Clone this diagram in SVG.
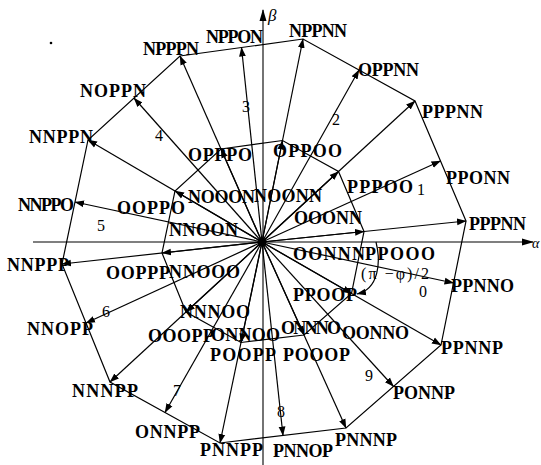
<svg xmlns="http://www.w3.org/2000/svg" width="541" height="465" viewBox="0 0 541 465">
<defs>
<marker id="ah" markerUnits="userSpaceOnUse" markerWidth="10" markerHeight="8" refX="9" refY="4" orient="auto" viewBox="0 0 10 8"><path d="M0,0.6 L9.5,4 L0,7.4 z" fill="#000"/></marker>
<marker id="axh" markerUnits="userSpaceOnUse" markerWidth="12" markerHeight="8" refX="11" refY="4" orient="auto" viewBox="0 0 12 8"><path d="M0,0.5 L12,4 L0,7.5 z" fill="#000"/></marker>
</defs>
<style>
.lb{font-family:"Liberation Serif","Times New Roman",serif;font-weight:bold;font-size:18px;fill:#000}
.nm{font-family:"Liberation Serif","Times New Roman",serif;font-size:16px;fill:#000}
.gk{font-family:"Liberation Serif","Times New Roman",serif;font-style:italic;font-size:17px;fill:#000}
.ln{stroke:#000;stroke-width:1.2;fill:none}
.ar{stroke:#000;stroke-width:1.2;fill:none;marker-end:url(#ah)}
.ax{stroke:#000;stroke-width:1.1;fill:none;marker-end:url(#axh)}
</style>
<rect width="541" height="465" fill="#fff"/>
<g id="axes">
<line class="ax" x1="33" y1="242" x2="533" y2="242"/>
<line class="ax" x1="263" y1="465" x2="263" y2="10"/>
<text class="gk" x="532" y="248" style="font-size:14px">α</text>
<text class="gk" x="268" y="21">β</text>
</g>
<g id="polygons">
<polygon class="ln" points="466,221 415,101 303,39 180,56 88,140 62,264 110,382 220,443 346,428 441,345"/>
<polygon class="ln" points="364,231.5 338.5,171.5 282.5,140.5 221,149 175,191 162,253 186,312 241,342.5 304,335 351.5,293.5"/>
</g>
<g id="connectors">
<line class="ar" x1="262" y1="242" x2="466" y2="221"/>
<line class="ar" x1="262" y1="242" x2="415" y2="101"/>
<line class="ar" x1="262" y1="242" x2="303" y2="39"/>
<line class="ar" x1="262" y1="242" x2="180" y2="56"/>
<line class="ar" x1="262" y1="242" x2="88" y2="140"/>
<line class="ar" x1="262" y1="242" x2="62" y2="264"/>
<line class="ar" x1="262" y1="242" x2="110" y2="382"/>
<line class="ar" x1="262" y1="242" x2="220" y2="443"/>
<line class="ar" x1="262" y1="242" x2="346" y2="428"/>
<line class="ar" x1="262" y1="242" x2="441" y2="345"/>
<line class="ar" x1="262" y1="242" x2="364" y2="231.5"/>
<line class="ar" x1="262" y1="242" x2="338.5" y2="171.5"/>
<line class="ar" x1="262" y1="242" x2="282.5" y2="140.5"/>
<line class="ar" x1="262" y1="242" x2="221" y2="149"/>
<line class="ar" x1="262" y1="242" x2="175" y2="191"/>
<line class="ar" x1="262" y1="242" x2="162" y2="253"/>
<line class="ar" x1="262" y1="242" x2="186" y2="312"/>
<line class="ar" x1="262" y1="242" x2="241" y2="342.5"/>
<line class="ar" x1="262" y1="242" x2="304" y2="335"/>
<line class="ar" x1="262" y1="242" x2="351.5" y2="293.5"/>
<line class="ar" x1="262" y1="242" x2="440.5" y2="161"/>
<line class="ar" x1="262" y1="242" x2="359" y2="70"/>
<line class="ar" x1="262" y1="242" x2="241.5" y2="47.5"/>
<line class="ar" x1="262" y1="242" x2="134" y2="98"/>
<line class="ar" x1="262" y1="242" x2="75" y2="202"/>
<line class="ar" x1="262" y1="242" x2="86" y2="323"/>
<line class="ar" x1="262" y1="242" x2="165" y2="412.5"/>
<line class="ar" x1="262" y1="242" x2="283" y2="435.5"/>
<line class="ar" x1="262" y1="242" x2="393.5" y2="386.5"/>
<line class="ar" x1="262" y1="242" x2="453.5" y2="283"/>
<path class="ar" d="M376,242 C381,262 379,289 357,294"/>
<circle cx="262" cy="242" r="4.5" fill="#000"/>
<circle cx="51" cy="43" r="1.3" fill="#000"/>
</g>
<g id="outer-labels">
<text id="t-nppon" class="lb" x="206" y="43" textLength="57">NPPON</text>
<text id="t-nppnn" class="lb" x="289" y="37" textLength="58">NPPNN</text>
<text id="t-ndppn" class="lb" x="143" y="55" textLength="56">NPPPN</text>
<text id="t-oppnn" class="lb" x="358" y="76" textLength="61">OPPNN</text>
<text id="t-noppn" class="lb" x="80" y="97" textLength="66">NOPPN</text>
<text id="t-pppnn" class="lb" x="422" y="118" textLength="61">PPPNN</text>
<text id="t-nnppn" class="lb" x="29" y="143" textLength="64">NNPPN</text>
<text id="t-pponn" class="lb" x="446" y="184" textLength="64">PPONN</text>
<text id="t-nnppo" class="lb" x="18" y="211" textLength="56">NNPPO</text>
<text id="t-pppnn2" class="lb" x="469" y="230" textLength="57">PPPNN</text>
<text id="t-nnppp" class="lb" x="7" y="271" textLength="62">NNPPP</text>
<text id="t-ppnno" class="lb" x="451" y="292" textLength="63">PPNNO</text>
<text id="t-nnopp" class="lb" x="27" y="335" textLength="66">NNOPP</text>
<text id="t-ppnnp" class="lb" x="441" y="354" textLength="62">PPNNP</text>
<text id="t-nnnpp" class="lb" x="72" y="397" textLength="66">NNNPP</text>
<text id="t-ponnp" class="lb" x="393" y="399" textLength="62">PONNP</text>
<text id="t-onnpp" class="lb" x="135" y="438" textLength="65">ONNPP</text>
<text id="t-pnnnp" class="lb" x="335" y="446" textLength="62">PNNNP</text>
<text id="t-pnnpp" class="lb" x="200" y="456" textLength="63">PNNPP</text>
<text id="t-pnnop" class="lb" x="273" y="457" textLength="60">PNNOP</text>
</g>
<g id="inner-labels">
<text id="t-opppo" class="lb" x="188" y="161" textLength="64">OPPPO</text>
<text id="t-oppoo" class="lb" x="273" y="157" textLength="69">OPPOO</text>
<text id="t-pppoo" class="lb" x="347" y="193" textLength="66">PPPOO</text>
<text id="t-nooon" class="lb" x="188" y="203" textLength="67">NOOON</text>
<text id="t-noonn" class="lb" x="254" y="202" textLength="68">NOONN</text>
<text id="t-ooppo" class="lb" x="117" y="214" textLength="68">OOPPO</text>
<text id="t-ooonn" class="lb" x="294" y="224" textLength="68">OOONN</text>
<text id="t-nnoon" class="lb" x="169" y="236" textLength="69">NNOON</text>
<text id="t-oonnn" class="lb" x="293" y="260" textLength="72">OONNN</text>
<text id="t-ppooo" class="lb" x="365" y="260" textLength="70">PPOOO</text>
<text id="t-ooppp" class="lb" x="106" y="279" textLength="64">OOPPP</text>
<text id="t-nnooo" class="lb" x="169" y="278" textLength="71">NNOOO</text>
<text id="t-ppoop" class="lb" x="293" y="301" textLength="64">PPOOP</text>
<text id="t-nnnoo" class="lb" x="180" y="318" textLength="70">NNNOO</text>
<text id="t-onnno" class="lb" x="281" y="334" textLength="60">ONNNO</text>
<text id="t-oonno" class="lb" x="342" y="339" textLength="67">OONNO</text>
<text id="t-ooopp" class="lb" x="148" y="342" textLength="66">OOOPP</text>
<text id="t-onnoo" class="lb" x="211" y="341" textLength="69">ONNOO</text>
<text id="t-poopp" class="lb" x="210" y="361" textLength="66">POOPP</text>
<text id="t-pooop" class="lb" x="283" y="361" textLength="67">POOOP</text>
</g>
<g id="sector-numbers">
<text class="nm" x="417" y="195">1</text>
<text class="nm" x="332" y="125">2</text>
<text class="nm" x="242" y="112">3</text>
<text class="nm" x="155" y="141">4</text>
<text class="nm" x="97" y="231">5</text>
<text class="nm" x="102" y="317">6</text>
<text class="nm" x="173" y="396">7</text>
<text class="nm" x="277" y="417">8</text>
<text class="nm" x="365" y="381">9</text>
<text class="nm" x="419" y="297">0</text>
<text class="nm" x="361" y="279" textLength="68">(π −φ)/2</text>
</g>
</svg>
